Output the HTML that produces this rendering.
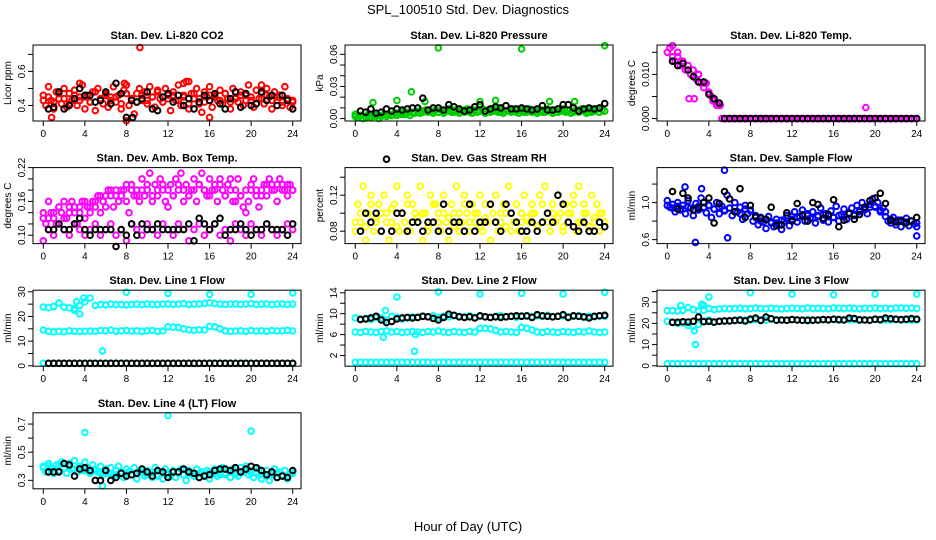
<!DOCTYPE html>
<html><head><meta charset="utf-8">
<style>
html,body{margin:0;padding:0;background:#fff;}
svg{display:block;font-family:"Liberation Sans",Arial,sans-serif;}
</style></head>
<body>
<svg id="c" width="936" height="540" viewBox="0 0 936 540" xmlns="http://www.w3.org/2000/svg">
<text x="468" y="14" text-anchor="middle" font-size="13">SPL_100510  Std. Dev. Diagnostics</text>
<text x="468" y="531" text-anchor="middle" font-size="13">Hour of Day (UTC)</text>
</svg>
<script>
// ---- data ----
const xTicks=[0,4,8,12,16,20,24];
const co2Red=[0.46,0.40,0.51,0.43,0.38,0.48,0.44,0.41,0.50,0.39,0.47,0.43,0.49,0.40,0.45,0.52,0.38,0.46,0.42,0.48,0.37,0.50,0.44,0.41,0.47,0.39,0.45,0.51,0.42,0.46,0.38,0.49,0.52,0.40,0.44,0.35,0.47,0.50,0.43,0.48,0.41,0.51,0.45,0.39,0.49,0.44,0.42,0.50,0.46,0.37,0.48,0.43,0.52,0.40,0.46,0.54,0.38,0.47,0.44,0.50,0.41,0.36,0.48,0.45,0.51,0.39,0.46,0.43,0.49,0.41,0.47,0.44,0.38,0.50,0.45,0.42,0.48,0.40,0.46,0.52,0.43,0.39,0.49,0.44,0.47,0.41,0.50,0.45,0.38,0.48,0.43,0.46,0.40,0.51,0.44,0.39,0.42];
const co2Red2=[0.43,0.45,0.42,0.47,0.44,0.41,0.46,0.43,0.45,0.42,0.48,0.44,0.46,0.43,0.45,0.41,0.47,0.44,0.42,0.46,0.43,0.45,0.48,0.42,0.44,0.46,0.43,0.45,0.41,0.47,0.44,0.42,0.46,0.45,0.43,0.47,0.42,0.44,0.46,0.43,0.45,0.41,0.44,0.46,0.43,0.45,0.42,0.44,0.43];
const co2Black=[0.37,0.38,0.39,0.48,0.38,0.40,0.44,0.50,0.46,0.46,0.42,0.43,0.48,0.41,0.53,0.47,0.33,0.43,0.42,0.44,0.48,0.38,0.37,0.45,0.47,0.42,0.46,0.40,0.44,0.38,0.42,0.46,0.43,0.47,0.41,0.38,0.44,0.48,0.39,0.47,0.40,0.41,0.48,0.43,0.46,0.40,0.46,0.43,0.38];
const co2OutX=[9.3,8.0,14.0,13.5,7.8,21.0,16.0,0.8,3.5];
const co2OutY=[0.74,0.31,0.54,0.53,0.53,0.52,0.33,0.33,0.53];
const presGreen=[0.004,0.001,0.003,0.000,0.002,0.004,0.001,0.003,0.002,0.000,0.003,0.004,0.002,0.004,0.003,0.005,0.003,0.004,0.006,0.004,0.005,0.003,0.006,0.005,0.007,0.005,0.006,0.008,0.006,0.007,0.005,0.008,0.006,0.008,0.005,0.007,0.009,0.006,0.008,0.007,0.005,0.008,0.006,0.009,0.007,0.005,0.008,0.006,0.007,0.009,0.005,0.008,0.006,0.007,0.009,0.006,0.008,0.005,0.007,0.008,0.006,0.009,0.007,0.005,0.008,0.006,0.007,0.009,0.006,0.008,0.005,0.007,0.008,0.006,0.009,0.007,0.005,0.008,0.006,0.007,0.009,0.006,0.008,0.005,0.007,0.008,0.006,0.009,0.007,0.005,0.008,0.006,0.007,0.009,0.006,0.008,0.007];
const presGreen2=[0.002,0.003,0.001,0.002,0.003,0.002,0.004,0.003,0.005,0.004,0.006,0.005,0.006,0.007,0.006,0.007,0.006,0.007,0.007,0.006,0.007,0.007,0.006,0.007,0.007,0.006,0.007,0.007,0.006,0.007,0.007,0.006,0.007,0.006,0.007,0.007,0.006,0.007,0.007,0.006,0.007,0.007,0.006,0.007,0.007,0.006,0.007,0.006,0.007];
const presOutX=[8,16,24,5.4,4,1.7,12,13.5,18.7,21.1,6.7];
const presOutY=[0.066,0.065,0.068,0.025,0.017,0.015,0.016,0.017,0.016,0.016,0.016];
const presBlack=[0.008,0.007,0.006,0.009,0.005,0.006,0.009,0.007,0.009,0.008,0.009,0.010,0.010,0.019,0.008,0.010,0.010,0.008,0.013,0.011,0.009,0.007,0.008,0.011,0.013,0.007,0.009,0.011,0.010,0.012,0.009,0.009,0.010,0.009,0.008,0.009,0.012,0.008,0.008,0.009,0.013,0.013,0.010,0.007,0.009,0.010,0.009,0.010,0.014];
const tempMag=[0.015,0.016,0.014,0.013,0.015,0.012,0.013,0.011,0.012,0.010,0.011,0.009,0.010,0.008,0.007,0.008,0.006,0.005,0.004,0.003,0.003,0,0,0,0,0,0,0,0,0,0,0,0,0,0,0,0,0,0,0,0,0,0,0,0,0,0,0,0,0,0,0,0,0,0,0,0,0,0,0,0,0,0,0,0,0,0,0,0,0,0,0,0,0,0,0,0,0,0,0,0,0,0,0,0,0,0,0,0,0,0,0,0,0,0,0,0];
const tempOutX=[19.1,2.1,2.6,0.5,1.0,1.5,3.0,3.6,4.4,4.8,5.1];
const tempOutY=[0.0025,0.0045,0.0045,0.0165,0.014,0.013,0.010,0.008,0.004,0.003,0.003];
const tempBlack=[0.014,0.013,0.012,0.0125,0.011,0.0095,0.0083,0.0083,0.0055,0.0045,0.0035,0,0,0,0,0,0,0,0,0,0,0,0,0,0,0,0,0,0,0,0,0,0,0,0,0,0,0,0,0,0,0,0,0,0,0,0,0,0];
const ambHi=[0.13,0.12,0.16,0.14,0.13,0.12,0.15,0.14,0.16,0.13,0.15,0.16,0.14,0.12,0.15,0.16,0.13,0.15,0.14,0.16,0.15,0.17,0.14,0.16,0.15,0.18,0.17,0.15,0.18,0.16,0.17,0.18,0.16,0.14,0.19,0.17,0.18,0.16,0.20,0.17,0.18,0.21,0.16,0.19,0.17,0.20,0.18,0.16,0.15,0.19,0.17,0.20,0.18,0.21,0.16,0.19,0.17,0.18,0.20,0.16,0.19,0.21,0.18,0.17,0.20,0.18,0.19,0.16,0.20,0.18,0.17,0.19,0.20,0.16,0.18,0.20,0.17,0.15,0.14,0.16,0.18,0.20,0.17,0.15,0.18,0.19,0.17,0.20,0.19,0.18,0.16,0.20,0.19,0.18,0.17,0.19,0.18];
const ambHi2=[0.14,0.13,0.14,0.15,0.13,0.14,0.15,0.14,0.16,0.15,0.16,0.17,0.17,0.18,0.17,0.18,0.19,0.18,0.17,0.18,0.19,0.17,0.18,0.19,0.18,0.17,0.19,0.18,0.17,0.18,0.19,0.18,0.17,0.18,0.19,0.17,0.18,0.16,0.17,0.18,0.19,0.18,0.17,0.19,0.18,0.19,0.18,0.19,0.18];
const ambLo=[0.09,0.11,0.10,0.12,0.11,0.10,0.12,0.11,0.10,0.11,0.12,0.10,0.11,0.12,0.10,0.11,0.09,0.12,0.11,0.10,0.12,0.11,0.10,0.12,0.11,0.10,0.12,0.11,0.09,0.11,0.12,0.10,0.11,0.12,0.10,0.11,0.09,0.12,0.11,0.10,0.12,0.11,0.10,0.12,0.11,0.10,0.11,0.12,0.11];
const ambBlack=[0.11,0.11,0.11,0.12,0.11,0.11,0.12,0.13,0.11,0.10,0.11,0.11,0.11,0.11,0.08,0.11,0.10,0.12,0.10,0.12,0.11,0.11,0.12,0.11,0.11,0.11,0.11,0.11,0.12,0.09,0.13,0.12,0.11,0.12,0.13,0.10,0.11,0.11,0.12,0.11,0.10,0.11,0.11,0.12,0.11,0.11,0.11,0.10,0.12];
const rhYellow=[0.08,0.11,0.09,0.13,0.07,0.10,0.12,0.08,0.09,0.11,0.08,0.12,0.10,0.07,0.09,0.11,0.13,0.08,0.10,0.09,0.12,0.08,0.11,0.10,0.09,0.13,0.07,0.10,0.08,0.12,0.09,0.11,0.10,0.08,0.12,0.09,0.07,0.11,0.10,0.13,0.08,0.09,0.12,0.10,0.08,0.11,0.09,0.10,0.12,0.08,0.11,0.09,0.07,0.10,0.12,0.08,0.09,0.11,0.10,0.13,0.08,0.09,0.11,0.08,0.10,0.12,0.07,0.09,0.11,0.10,0.08,0.12,0.09,0.13,0.10,0.08,0.11,0.09,0.12,0.10,0.08,0.11,0.09,0.10,0.12,0.08,0.13,0.09,0.11,0.10,0.08,0.12,0.09,0.11,0.08,0.10,0.09];
const rhYellow2=[0.09,0.10,0.085,0.11,0.095,0.10,0.09,0.105,0.085,0.10,0.11,0.09,0.095,0.10,0.085,0.11,0.09,0.10,0.095,0.085,0.10,0.11,0.09,0.10,0.085,0.095,0.11,0.09,0.10,0.085,0.10,0.11,0.09,0.095,0.10,0.085,0.11,0.09,0.10,0.095,0.085,0.10,0.11,0.09,0.10,0.085,0.095,0.10,0.09];
const rhBlack=[0.08,0.08,0.10,0.09,0.10,0.08,0.16,0.08,0.10,0.10,0.08,0.09,0.09,0.08,0.09,0.09,0.08,0.11,0.08,0.09,0.09,0.08,0.11,0.08,0.09,0.09,0.11,0.09,0.08,0.11,0.10,0.09,0.08,0.08,0.09,0.08,0.09,0.10,0.09,0.12,0.11,0.09,0.085,0.08,0.09,0.08,0.08,0.09,0.085];
const flowBlue=[1.02,0.95,0.98,0.90,1.00,0.92,0.97,0.88,1.02,0.94,0.86,0.99,0.92,1.05,0.95,0.89,0.97,0.84,0.93,1.00,0.88,0.96,0.91,1.08,0.94,0.86,1.00,0.90,0.95,0.82,0.97,0.88,0.92,0.80,0.86,0.76,0.84,0.79,0.72,0.85,0.78,0.74,0.82,0.76,0.71,0.80,0.86,0.75,0.82,0.90,0.79,0.85,0.92,0.80,0.88,0.83,0.90,0.78,0.86,0.94,0.81,0.88,0.79,0.91,0.84,0.96,0.80,0.87,0.93,0.82,0.89,0.94,0.86,0.97,0.90,1.00,0.92,0.88,0.98,1.04,0.95,1.00,0.90,0.94,0.85,0.80,0.78,0.84,0.76,0.81,0.74,0.79,0.83,0.75,0.80,0.77,0.74];
const flowBlue2=[0.97,0.94,0.96,0.93,0.95,0.92,0.96,0.94,0.97,0.93,0.95,0.92,0.94,0.90,0.88,0.93,0.91,0.84,0.80,0.82,0.79,0.78,0.81,0.83,0.85,0.84,0.87,0.86,0.83,0.85,0.87,0.86,0.84,0.86,0.85,0.88,0.87,0.91,0.93,0.95,0.96,0.92,0.90,0.82,0.80,0.81,0.79,0.80,0.78];
const flowOutX=[5.5,2.7,5.8,1.7,3.3,24];
const flowOutY=[1.35,0.57,0.62,1.17,1.15,0.64];
const flowBlack=[1.02,1.12,0.93,1.10,1.05,0.92,0.94,1.00,1.05,0.78,0.99,1.12,1.04,0.90,1.15,0.84,0.97,0.85,0.83,0.82,0.95,0.75,0.76,0.89,0.80,0.99,0.86,0.80,1.00,0.98,0.83,0.87,1.03,0.74,0.81,0.88,0.82,0.87,0.95,1.02,1.05,1.10,0.99,0.81,0.79,0.80,0.78,0.80,0.84];
const l1Hi=[23.8,23.6,24.0,25.5,23.8,23.5,23.2,24.5,26.0,27.5,24.5,24.8,24.7,25.0,24.8,24.9,24.7,24.9,25.0,24.8,25.1,24.9,24.8,25.0,25.1,24.9,25.0,25.2,24.8,25.0,25.1,25.3,25.6,25.2,25.0,24.9,25.0,25.1,24.9,25.0,25.2,24.9,25.0,25.1,24.8,25.0,25.1,24.9,25.0];
const l1Mid=[14.5,14.0,13.8,14.0,13.8,14.2,14.0,13.9,14.0,14.1,14.0,14.3,14.2,14.5,14.0,14.2,14.3,14.1,14.2,14.0,14.2,14.3,14.0,14.1,15.8,15.7,15.5,15.0,14.6,14.4,14.6,14.5,16.0,15.8,15.0,14.2,14.0,14.1,14.2,14.0,14.3,14.1,14.2,14.0,14.3,14.1,14.2,14.4,14.1];
const l1Low=[1,1,1,1,1,1,1,1,1,1,1,1,1,1,1,1,1,1,1,1,1,1,1,1,1,1,1,1,1,1,1,1,1,1,1,1,1,1,1,1,1,1,1,1,1,1,1,1,1];
const l1Black=[1,1,1,1,1,1,1,1,1,1,1,1,1,1,1,1,1,1,1,1,1,1,1,1,1,1,1,1,1,1,1,1,1,1,1,1,1,1,1,1,1,1,1,1,1,1,1,1,1];
const l1OutX=[8,12,16,20,24,5.7,3.5,3.9,3.2,3.0];
const l1OutY=[29.8,29.3,29.0,29.0,29.5,6.0,21.0,27.5,26.0,22.5];
const l2Hi=[9.2,9.0,9.1,8.9,9.3,9.2,8.8,9.5,9.3,9.0,9.2,9.4,9.3,9.5,9.4,9.6,9.3,9.5,9.4,9.6,9.5,9.4,9.6,9.3,9.5,9.4,9.3,9.5,9.6,9.4,9.5,9.3,9.6,9.5,9.4,9.6,9.5,9.7,9.4,9.5,9.6,9.4,9.5,9.6,9.3,9.5,9.4,9.6,9.5];
const l2Mid=[6.5,6.4,6.6,6.5,6.4,6.6,6.7,6.5,6.6,6.4,6.5,6.6,6.5,6.4,6.6,6.5,6.7,6.5,6.4,6.6,6.5,6.4,6.6,6.5,7.2,7.2,7.1,6.8,6.5,6.6,6.5,6.4,7.4,7.2,6.9,6.5,6.4,6.6,6.5,6.4,6.6,6.5,6.4,6.6,6.5,6.7,6.5,6.4,6.5];
const l2Low=[0.7,0.7,0.7,0.7,0.7,0.7,0.7,0.7,0.7,0.7,0.7,0.7,0.7,0.7,0.7,0.7,0.7,0.7,0.7,0.7,0.7,0.7,0.7,0.7,0.7,0.7,0.7,0.7,0.7,0.7,0.7,0.7,0.7,0.7,0.7,0.7,0.7,0.7,0.7,0.7,0.7,0.7,0.7,0.7,0.7,0.7,0.7,0.7,0.7];
const l2Black=[9.0,8.9,9.0,9.2,9.5,8.8,8.3,8.5,9.0,9.2,9.3,9.2,9.3,9.5,9.4,9.1,8.8,9.3,9.9,9.7,9.4,9.3,9.4,9.2,9.6,9.4,9.3,9.4,9.3,9.4,9.5,9.6,9.5,9.6,9.3,9.8,9.6,9.5,9.4,9.5,9.8,9.3,9.6,9.5,9.4,9.2,9.5,9.6,9.7];
const l2OutX=[4,8,12,16,20,24,2.9,2.7,5.7,5.8];
const l2OutY=[13.2,14.2,13.8,13.9,13.8,14.1,10.6,5.5,2.8,6.0];
const l3Hi=[26,26,25.8,26.2,27.5,26.5,25.8,26.2,27,26.5,26.8,27,26.9,27,27.1,26.9,27,27.2,27,26.9,27.1,27,26.8,27,27.1,27,26.9,27.2,27,27.1,27,26.9,27.3,27.1,27,27.2,27,26.9,27.1,27,27.2,27,27.1,26.9,27.2,27.3,27.1,27.2,27];
const l3Mid=[21,20.5,20,20.3,19,18.5,19.5,21,21.5,20.5,21,21,21.3,21.5,21.8,21.6,21.5,21.8,21.7,21.5,22,21.8,21.6,21.5,21.8,21.6,21.5,21.8,21.6,21.5,21.8,21.6,21.8,21.5,21.7,21.6,21.8,21.5,21.7,21.6,21.8,21.5,21.7,21.6,21.8,21.6,21.7,21.5,21.6];
const l3Low=[1,1,1,1,1,1,1,1,1,1,1,1,1,1,1,1,1,1,1,1,1,1,1,1,1,1,1,1,1,1,1,1,1,1,1,1,1,1,1,1,1,1,1,1,1,1,1,1,1];
const l3Black=[21,20.5,20.5,20.8,20.6,21,23,20.8,21,20.6,21,21.2,21.2,21.4,21.5,21.2,22,22.5,21.4,23,22.2,21.5,21.6,21.5,21.8,21.6,21.5,21.4,21.5,21.6,21.8,21.7,22,21.8,21.6,22.5,22.3,21.7,21.6,21.5,22,21.8,22.5,22.2,22,21.8,22,22.2,22];
const l3OutX=[4,8,12,16,20,24,2.7,2.6,1.3,3.3,3.5];
const l3OutY=[32.5,34.5,33.8,33.5,33.8,33.8,10,16.5,28.5,29,28.5];
const l4Cyan=[0.40,0.36,0.42,0.38,0.35,0.41,0.37,0.43,0.39,0.35,0.42,0.38,0.44,0.36,0.40,0.37,0.43,0.39,0.35,0.41,0.38,0.36,0.40,0.34,0.38,0.35,0.39,0.33,0.37,0.40,0.35,0.32,0.38,0.36,0.34,0.39,0.31,0.36,0.38,0.33,0.37,0.35,0.32,0.39,0.34,0.36,0.31,0.38,0.35,0.33,0.37,0.32,0.36,0.38,0.34,0.30,0.37,0.35,0.33,0.38,0.32,0.36,0.34,0.37,0.31,0.35,0.38,0.33,0.36,0.39,0.34,0.37,0.32,0.38,0.35,0.33,0.39,0.36,0.40,0.34,0.37,0.32,0.35,0.38,0.31,0.34,0.37,0.30,0.35,0.38,0.32,0.36,0.33,0.37,0.31,0.35,0.36];
const l4Cyan2=[0.39,0.40,0.38,0.41,0.39,0.40,0.38,0.39,0.37,0.36,0.37,0.35,0.36,0.35,0.34,0.36,0.35,0.34,0.35,0.36,0.34,0.35,0.33,0.35,0.34,0.36,0.35,0.34,0.35,0.33,0.35,0.34,0.36,0.35,0.34,0.35,0.36,0.34,0.36,0.37,0.35,0.36,0.34,0.33,0.34,0.35,0.34,0.33,0.35];
const l4OutX=[12,4,20,5.7];
const l4OutY=[0.76,0.64,0.65,0.26];
const l4Black=[0.36,0.36,0.36,0.36,0.42,0.41,0.33,0.38,0.39,0.37,0.30,0.30,0.37,0.30,0.32,0.35,0.33,0.34,0.35,0.38,0.36,0.33,0.37,0.36,0.32,0.36,0.36,0.38,0.36,0.35,0.32,0.33,0.34,0.37,0.38,0.38,0.37,0.39,0.36,0.38,0.40,0.39,0.37,0.34,0.36,0.32,0.33,0.32,0.37];

const RED='#ff0000',GRN='#00cd00',MAG='#ff00ff',YEL='#ffff00',BLU='#0000ff',CYN='#00ffff',BLK='#000000';
const panels=[
 {name:'co2',title:'Stan. Dev. Li-820 CO2',ylab:'Licor ppm',col:0,row:0,lo:0.309,hi:0.755,ticks:[0.4,0.5,0.6,0.7],labels:[[0.4,'0.4'],[0.6,'0.6']],
  series:[[co2Red,RED],[co2Red2,RED],[co2Black,BLK]],out:[[co2OutX,co2OutY,RED],[[8.6],[0.33],BLK]]},
 {name:'pressure',title:'Stan. Dev. Li-820 Pressure',ylab:'kPa',col:1,row:0,lo:-0.00225,hi:0.0687,ticks:[0,0.01,0.02,0.03,0.04,0.05,0.06],labels:[[0,'0.00'],[0.03,'0.03'],[0.06,'0.06']],
  series:[[presGreen,GRN],[presGreen2,GRN],[presBlack,BLK]],out:[[presOutX,presOutY,GRN]]},
 {name:'temp',title:'Stan. Dev. Li-820 Temp.',ylab:'degrees C',col:2,row:0,lo:-0.00055,hi:0.01666,ticks:[0,0.005,0.01,0.015],labels:[[0,'0.000'],[0.01,'0.010']],
  series:[[tempMag,MAG],[tempBlack,BLK]],out:[[tempOutX,tempOutY,MAG]]},
 {name:'amb-box',title:'Stan. Dev. Amb. Box Temp.',ylab:'degrees C',col:0,row:1,lo:0.0851,hi:0.22,ticks:[0.10,0.12,0.14,0.16,0.18,0.20,0.22],labels:[[0.10,'0.10'],[0.16,'0.16'],[0.22,'0.22']],
  series:[[ambHi,MAG],[ambHi2,MAG],[ambLo,MAG],[ambBlack,BLK]],out:[]},
 {name:'rh',title:'Stan. Dev. Gas Stream RH',ylab:'percent',col:1,row:1,lo:0.0662,hi:0.1507,ticks:[0.08,0.10,0.12,0.14],labels:[[0.08,'0.08'],[0.12,'0.12']],
  series:[[rhYellow,YEL],[rhYellow2,YEL],[rhBlack,BLK]],out:[]},
 {name:'sample-flow',title:'Stan. Dev. Sample Flow',ylab:'ml/min',col:2,row:1,lo:0.557,hi:1.378,ticks:[0.6,0.8,1.0,1.2],labels:[[0.6,'0.6'],[1.0,'1.0']],
  series:[[flowBlue,BLU],[flowBlue2,BLU],[flowBlack,BLK]],out:[[flowOutX,flowOutY,BLU]]},
 {name:'line1',title:'Stan. Dev. Line 1 Flow',ylab:'ml/min',col:0,row:2,lo:-0.16,hi:30.65,ticks:[0,5,10,15,20,25,30],labels:[[0,'0'],[10,'10'],[20,'20'],[30,'30']],
  series:[[l1Hi,CYN],[l1Mid,CYN],[l1Low,CYN],[l1Black,BLK]],out:[[l1OutX,l1OutY,CYN]]},
 {name:'line2',title:'Stan. Dev. Line 2 Flow',ylab:'ml/min',col:1,row:2,lo:-0.05,hi:14.5,ticks:[2,4,6,8,10,12,14],labels:[[2,'2'],[6,'6'],[10,'10'],[14,'14']],
  series:[[l2Hi,CYN],[l2Mid,CYN],[l2Low,CYN],[l2Black,BLK]],out:[[l2OutX,l2OutY,CYN]]},
 {name:'line3',title:'Stan. Dev. Line 3 Flow',ylab:'ml/min',col:2,row:2,lo:-0.19,hi:35.66,ticks:[0,5,10,15,20,25,30,35],labels:[[0,'0'],[10,'10'],[20,'20'],[30,'30']],
  series:[[l3Hi,CYN],[l3Mid,CYN],[l3Low,CYN],[l3Black,BLK]],out:[[l3OutX,l3OutY,CYN]]},
 {name:'line4',title:'Stan. Dev. Line 4 (LT) Flow',ylab:'ml/min',col:0,row:3,lo:0.240,hi:0.780,ticks:[0.3,0.4,0.5,0.6,0.7],labels:[[0.3,'0.3'],[0.5,'0.5'],[0.7,'0.7']],
  series:[[l4Cyan,CYN],[l4Cyan2,CYN],[l4Black,BLK]],out:[[l4OutX,l4OutY,CYN]]}
];
const NS='http://www.w3.org/2000/svg';
const svg=document.getElementById('c');
function mk(tag,attrs,parent){const e=document.createElementNS(NS,tag);for(const k in attrs)e.setAttribute(k,attrs[k]);(parent||svg).appendChild(e);return e;}
panels.forEach(p=>{
 const L=33+p.col*312, R=L+268, T=45+p.row*122.6, B=T+76;
 const xs=v=>L+10.3+v/24*249.4;
 const ys=v=>B-(v-p.lo)/(p.hi-p.lo)*(B-T);
 const g=mk('g',{});
 
 
 const t=mk('text',{x:(L+R)/2,y:T-6,'text-anchor':'middle','font-size':'11','font-weight':'bold'},g);
 t.textContent=p.title;
 
 
 const yl=mk('text',{x:0,y:0,'text-anchor':'middle','font-size':'10',transform:`translate(${L-22},${(T+B)/2}) rotate(-90)`},g);
 yl.textContent=p.ylab;
 
 
 const pts=mk('g',{fill:'none','stroke-width':'2'},g);
 
 
 const dot=(x,y,c)=>{const ci=mk('circle',{cx:xs(x).toFixed(1),cy:ys(y).toFixed(1),r:'2.8',stroke:c},pts);
  
  };
 const colored=p.series.filter(s=>s[1]!==BLK), blacks=p.series.filter(s=>s[1]===BLK);
 colored.forEach(s=>{const a=s[0],n=a.length;a.forEach((v,i)=>dot(i*24/(n-1),v,s[1]));});
 p.out.filter(o=>o[2]!==BLK).forEach(o=>o[0].forEach((x,i)=>dot(x,o[1][i],o[2])));
 blacks.forEach(s=>{const a=s[0],n=a.length;a.forEach((v,i)=>{if(i>0)dot(i*24/(n-1),v,BLK);});});
 p.out.filter(o=>o[2]===BLK).forEach(o=>o[0].forEach((x,i)=>dot(x,o[1][i],o[2])));
 const box=mk('rect',{x:L,y:T,width:R-L,height:B-T,fill:'none',stroke:'#000','stroke-width':'1'},g);
 
 
 const ax=mk('g',{stroke:'#000','stroke-width':'1'},g);
 
 
 xTicks.forEach(v=>{mk('line',{x1:xs(v),x2:xs(v),y1:B,y2:B+5},ax);
  const tx=mk('text',{x:xs(v),y:B+16,'text-anchor':'middle','font-size':'10',stroke:'none',fill:'#000'},g);
  tx.textContent=String(v);
  
  });
 p.ticks.forEach(v=>mk('line',{x1:L-5,x2:L,y1:ys(v),y2:ys(v)},ax));
 p.labels.forEach(lb=>{const tx=mk('text',{x:0,y:0,'text-anchor':'middle','font-size':'10',transform:`translate(${L-8},${ys(lb[0])}) rotate(-90)`},g);
  tx.textContent=lb[1];
  
  });
});
</script>
</body></html>
